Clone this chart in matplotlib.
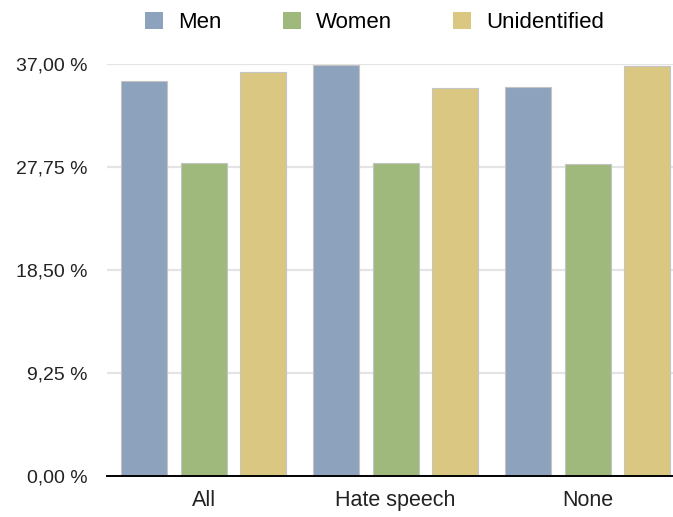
import numpy as np
import matplotlib
matplotlib.use("Agg")
import matplotlib.pyplot as plt
from matplotlib.patches import Patch

plt.rcParams['font.family'] = ['Liberation Sans', 'DejaVu Sans']

# share of comments per author gender, in percent
categories = ["All", "Hate speech", "None"]
series = ["Men", "Women", "Unidentified"]
men = [35.50, 36.91, 34.96]
women = [28.08, 28.08, 27.99]
unidentified = [36.28, 34.82, 36.82]
yticks = [0, 9.25, 18.5, 27.75, 37]

colors = ["#8DA2BD", "#9EB97B", "#DAC882"]

fig = plt.figure(figsize=(6.73, 5.17), dpi=100)
ax = fig.add_axes([0.159, 0.0793, 0.841, 0.797])

x = np.arange(len(categories))
offset = 0.31
width = 0.24
for i, (vals, col) in enumerate(zip([men, women, unidentified], colors)):
    ax.bar(x + (i - 1) * offset, vals, width, color=col,
           edgecolor="#c4c4c4", linewidth=0.8, zorder=3)

ax.set_xlim(-0.503, 2.445)
ax.set_ylim(0, 37)
ax.set_yticks(yticks)
ax.set_yticklabels([f"{v:.2f}".replace(".", ",") + " %" for v in yticks],
                   fontsize=14, color="#222222")
ax.set_xticks(x)
ax.set_xticklabels(categories, fontsize=15.5, color="#222222")
ax.tick_params(axis="y", length=0, pad=14)
ax.tick_params(axis="x", length=0, pad=10)

ax.yaxis.grid(True, color="#e4e4e4", linewidth=1.6, zorder=0)
ax.set_axisbelow(True)
for s in ["top", "right", "left"]:
    ax.spines[s].set_visible(False)
ax.spines["bottom"].set_color("black")
ax.spines["bottom"].set_linewidth(1.4)
ax.spines["bottom"].set_zorder(4)

handles = [Patch(facecolor=c, edgecolor="none", label=s) for s, c in zip(series, colors)]
fig.legend(handles=handles, loc="center", bbox_to_anchor=(0.557, 0.957), ncol=3,
           frameon=False, fontsize=16, handlelength=0.81, handleheight=0.81,
           handletextpad=0.68, columnspacing=2.75, borderaxespad=0)

fig.savefig("out.png", dpi=100)
